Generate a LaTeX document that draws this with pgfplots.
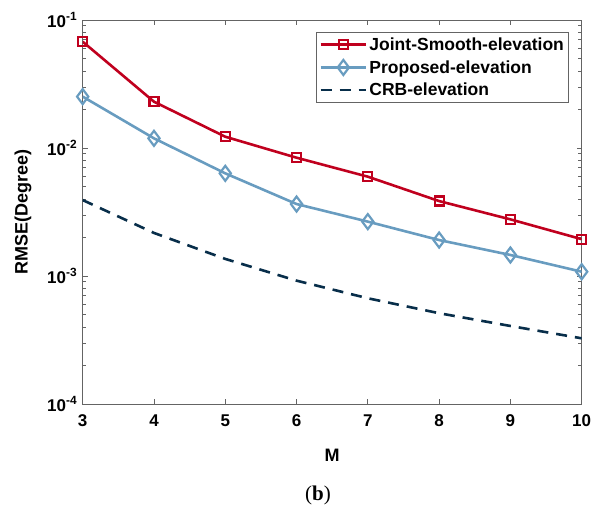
\documentclass[border=0pt]{standalone}
\usepackage{fontspec}
\setmainfont{Liberation Sans}
\newfontfamily\capfont{Liberation Serif}
\usepackage{pgfplots}
\pgfplotsset{compat=1.18}
\definecolor{cred}{RGB}{192,0,30}
\definecolor{cblue}{RGB}{104,156,192}
\definecolor{cnavy}{RGB}{8,46,74}
\definecolor{caxis}{RGB}{100,100,100}
\begin{document}
\begin{tikzpicture}
\useasboundingbox (0,0) rectangle (591pt,507pt);
\begin{axis}[
  at={(82.7pt,103pt)}, anchor=south west,
  scale only axis, width=499pt, height=384pt,
  xmin=3, xmax=10, ymode=log, ymin=1e-4, ymax=1e-1,
  xtick={3,4,5,6,7,8,9,10},
  xticklabels={3,4,5,6,7,8,9,10},
  ytick={1e-4,1e-3,1e-2,1e-1},
  minor ytick={2e-4,3e-4,4e-4,5e-4,6e-4,7e-4,8e-4,9e-4,2e-3,3e-3,4e-3,5e-3,6e-3,7e-3,8e-3,9e-3,2e-2,3e-2,4e-2,5e-2,6e-2,7e-2,8e-2,9e-2},
  yticklabels={\textbf{10}\textsuperscript{\textbf{-4}},\textbf{10}\textsuperscript{\textbf{-3}},\textbf{10}\textsuperscript{\textbf{-2}},\textbf{10}\textsuperscript{\textbf{-1}}},
  tick align=inside, tick pos=both,
  major tick length=5pt, minor tick length=3.2pt,
  axis line style={caxis, line width=0.8pt},
  every tick/.style={caxis, line width=0.8pt},
  every minor tick/.style={caxis, line width=0.8pt},
  tick label style={font=\fontsize{17}{17}\selectfont\bfseries, black},
  xticklabel style={yshift=-7pt},
  yticklabel style={xshift=-2pt},
  xlabel={M}, ylabel={RMSE(Degree)},
  xlabel style={at={(axis description cs:0.5,0)}, anchor=center, yshift=-51pt, font=\fontsize{18}{18}\selectfont\bfseries},
  ylabel style={at={(axis description cs:0,0.5)}, anchor=center, yshift=59.7pt, font=\fontsize{18}{18}\selectfont\bfseries},
  legend style={at={(1,1)}, anchor=north east, xshift=-12.4pt, yshift=-12.3pt,
    draw=caxis, line width=0.8pt, font=\fontsize{17.5}{17.5}\selectfont\bfseries,
    inner xsep=3pt, inner ysep=3pt, row sep=4.5pt},
  legend cell align=left,
  legend image post style={line width=2.6pt},
  every axis legend/.append style={legend image code/.code={
    \draw[mark repeat=2,mark phase=2] plot coordinates {(0cm,0cm) (0.8cm,0cm) (1.6cm,0cm)};}},
]
\addplot[cred, line width=2.6pt, mark=square, mark size=4.5pt, mark options={line width=2.2pt, solid}]
coordinates {(3,0.0677) (4,0.0230) (5,0.01225) (6,0.0084) (7,0.00597) (8,0.00385) (9,0.00277) (10,0.00194)};
\addlegendentry{Joint-Smooth-elevation}
\addplot[cblue, line width=2.6pt, mark=diamond, mark size=7.5pt, mark options={line width=2.2pt, solid}]
coordinates {(3,0.0252) (4,0.0119) (5,0.00634) (6,0.00365) (7,0.00266) (8,0.00191) (9,0.00146) (10,0.00108)};
\addlegendentry{Proposed-elevation}
\addplot[cnavy, line width=2.6pt, dash pattern=on 11pt off 8pt]
coordinates {(3,0.00392) (4,0.00217) (5,0.00136) (6,0.00092) (7,0.00067) (8,0.000512) (9,0.000407) (10,0.000326)};
\addlegendentry{CRB-elevation}
\end{axis}
\node[font=\capfont\fontsize{21}{21}\selectfont] at (318pt,12pt) {(\textbf{b})};
\end{tikzpicture}
\end{document}
